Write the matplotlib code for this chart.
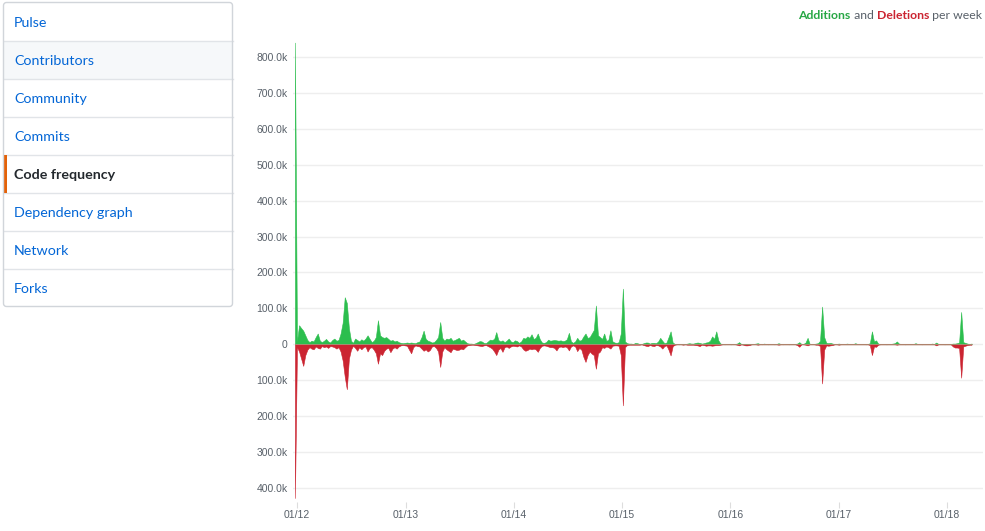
import matplotlib
matplotlib.use("Agg")
import matplotlib.pyplot as plt
import matplotlib.dates as mdates
from matplotlib.patches import Rectangle, FancyBboxPatch
import numpy as np
import pandas as pd

# ---------------- data (thousands of lines per week) ----------------
start_week = "2011-12-25"
additions_k = [
    840, 8, 53, 45, 38, 25, 12, 6, 10, 8,
    20, 30, 10, 6, 10, 15, 8, 5, 12, 16,
    10, 12, 30, 60, 131, 115, 45, 10, 4, 16,
    12, 8, 14, 10, 16, 25, 15, 6, 10, 20,
    67, 25, 20, 18, 20, 15, 10, 12, 8, 10,
    6, 4, 3, 4, 5, 4, 5, 4, 3, 6,
    8, 20, 38, 15, 10, 8, 5, 6, 12, 20,
    62, 18, 10, 16, 14, 18, 10, 12, 15, 18,
    10, 13, 8, 3, 2, 2, 1, 3, 6, 9,
    8, 4, 3, 8, 13, 12, 15, 34, 12, 8,
    11, 6, 10, 16, 8, 6, 11, 9, 4, 8,
    18, 16, 22, 18, 28, 15, 18, 30, 14, 5,
    4, 6, 13, 10, 11, 12, 11, 10, 11, 9,
    10, 14, 32, 8, 4, 8, 18, 10, 12, 22,
    30, 18, 20, 30, 40, 108, 25, 20, 15, 30,
    10, 12, 39, 8, 5, 4, 6, 30, 155, 8,
    3, 2, 2, 1, 4, 3, 1, 1, 3, 5,
    5, 2, 4, 4, 3, 8, 18, 10, 3, 5,
    20, 36, 5, 1, 1, 0, 1, 1, 0, 2,
    3, 2, 2, 4, 5, 4, 2, 3, 5, 6,
    10, 22, 15, 36, 11, 2, 1, 0, 1, 1,
    0, 1, 1, 2, 6, 1, 1, 1, 1, 1,
    0, 1, 2, 3, 1, 0, 2, 1, 0, 1,
    1, 0, 1, 3, 1, 0, 1, 1, 0, 1,
    1, 1, 2, 6, 1, 1, 5, 18, 1, 1,
    1, 2, 3, 10, 105, 20, 4, 3, 4, 2,
    1, 1, 2, 1, 1, 1, 2, 1, 1, 1,
    3, 1, 1, 1, 1, 0, 1, 3, 36, 8,
    11, 2, 1, 1, 1, 0, 1, 1, 2, 3,
    8, 2, 1, 1, 0, 1, 1, 1, 1, 3,
    1, 1, 0, 1, 1, 1, 1, 2, 1, 5,
    1, 1, 1, 0, 1, 1, 1, 2, 2, 3,
    5, 90, 6, 4, 2, 1, 2,
]
deletions_k = [
    -428, -8, -20, -40, -60, -30, -15, -8, -12, -14,
    -6, -10, -12, -5, -8, -6, -10, -5, -6, -8,
    -12, -8, -20, -45, -90, -125, -40, -15, -4, -10,
    -18, -8, -14, -8, -6, -20, -10, -8, -15, -25,
    -54, -25, -30, -18, -12, -10, -22, -12, -8, -12,
    -6, -3, -2, -3, -4, -15, -25, -8, -3, -5,
    -6, -12, -18, -14, -20, -16, -6, -5, -10, -20,
    -63, -20, -8, -14, -18, -22, -12, -14, -16, -15,
    -12, -14, -8, -3, -2, -1, -1, -2, -3, -4,
    -5, -3, -2, -5, -8, -12, -20, -30, -15, -10,
    -21, -8, -6, -10, -6, -4, -5, -6, -3, -6,
    -14, -18, -16, -12, -14, -12, -14, -21, -10, -4,
    -3, -4, -6, -8, -8, -10, -17, -8, -6, -8,
    -6, -8, -17, -6, -3, -6, -19, -10, -15, -35,
    -49, -30, -20, -26, -30, -68, -25, -20, -8, -10,
    -6, -8, -12, -4, -3, -3, -4, -30, -170, -8,
    -2, -1, -1, -1, -1, -1, -1, 0, -2, -4,
    -5, -2, -4, -5, -2, -3, -6, -12, -5, -3,
    -15, -31, -5, -1, 0, 0, 0, -1, 0, -1,
    -1, -1, -1, -2, -3, -5, -1, -2, -4, -3,
    -3, -4, -3, -2, -2, -1, 0, 0, 0, 0,
    0, 0, 0, -1, -3, 0, -1, -3, -3, -2,
    0, 0, 0, -1, 0, 0, 0, 0, 0, 0,
    0, 0, 0, -1, 0, 0, 0, 0, 0, 0,
    0, 0, -2, -7, 0, 0, -1, -3, 0, 0,
    0, -1, -1, -5, -109, -15, -3, -4, -3, -2,
    0, 0, -1, 0, 0, 0, 0, 0, 0, 0,
    0, 0, 0, 0, 0, 0, 0, -2, -30, -6,
    -7, -1, 0, 0, 0, 0, 0, 0, 0, 0,
    -1, 0, 0, 0, 0, 0, 0, 0, 0, 0,
    0, 0, 0, 0, 0, 0, 0, 0, 0, -3,
    0, 0, 0, 0, 0, 0, 0, -6, -9, -9,
    -10, -93, -6, -4, -2, -1, -1,
]
y_ticks_k = [-400, -300, -200, -100, 0, 100, 200, 300, 400, 500, 600, 700, 800]
x_tick_years = [2012, 2013, 2014, 2015, 2016, 2017, 2018]
nav_items = ["Pulse", "Contributors", "Community", "Commits", "Code frequency",
             "Dependency graph", "Network", "Forks"]
selected_item = "Code frequency"
hover_item = "Contributors"

# ---------------- figure ----------------
W, H, DPI = 985, 531, 100
fig = plt.figure(figsize=(W / DPI, H / DPI), dpi=DPI)
fig.patch.set_facecolor("white")

GREEN = "#2cbe4e"
RED = "#cb2431"
GRAY_TXT = "#586069"
UI_FONT = ["Lato", "DejaVu Sans"]

# chart axes in pixel geometry
ax_l, ax_r, ax_t, ax_b = 293, 983, 40, 502
ax = fig.add_axes([ax_l / W, 1 - ax_b / H, (ax_r - ax_l) / W, (ax_b - ax_t) / H])

dates = pd.date_range(start_week, periods=len(additions_k), freq="7D")
xd = mdates.date2num(dates.to_pydatetime())
adds = np.array(additions_k, dtype=float) * 1000
dels = np.array(deletions_k, dtype=float) * 1000

ax.fill_between(xd, 0, adds, color=GREEN, lw=0.4, zorder=3)
ax.fill_between(xd, dels, 0, color=RED, lw=0.4, zorder=3)
ax.plot(xd, np.zeros_like(xd), color="#a89c7c", lw=0.7, zorder=4, alpha=0.8)

jan12 = mdates.date2num(pd.Timestamp("2012-01-01").to_pydatetime())
px_per_day = 108.3 / 365.25
ax.set_xlim(jan12 - (297 - ax_l) / px_per_day, jan12 + (ax_r - 297) / px_per_day)
ppk = 0.3592  # px per thousand
zero_px = 344.3
ax.set_ylim(-(ax_b - zero_px) / ppk * 1000, (zero_px - ax_t) / ppk * 1000)

ax.set_yticks([v * 1000 for v in y_ticks_k])
ax.set_yticklabels(["0" if v == 0 else f"{abs(v):.1f}k" for v in y_ticks_k])
ax.grid(axis="y", color="#eeeeee", lw=1, zorder=0)
ax.set_axisbelow(True)

xt = [mdates.date2num(pd.Timestamp(f"{y}-01-01").to_pydatetime()) for y in x_tick_years]
ax.set_xticks(xt)
ax.set_xticklabels([f"01/{str(y)[2:]}" for y in x_tick_years])

for s in ax.spines.values():
    s.set_visible(False)
ax.tick_params(axis="y", length=0, pad=4, labelsize=7.5, labelcolor=GRAY_TXT)
ax.tick_params(axis="x", length=4, width=0.8, color="#dddddd", pad=2,
               labelsize=7.5, labelcolor=GRAY_TXT)
for lab in ax.get_xticklabels() + ax.get_yticklabels():
    lab.set_fontfamily(["Liberation Sans", "DejaVu Sans"])

# ---------------- overlay (sidebar + legend) in pixel coords ----------------
ov = fig.add_axes([0, 0, 1, 1], zorder=10)
ov.set_xlim(0, W)
ov.set_ylim(H, 0)
ov.axis("off")
ov.patch.set_alpha(0)

box_l, box_r, box_t, row_h = 3.5, 232.5, 2.5, 38
n = len(nav_items)
box_b = box_t + row_h * n
for i, item in enumerate(nav_items):
    top = box_t + i * row_h
    if item == hover_item:
        ov.add_patch(Rectangle((box_l, top), box_r - box_l, row_h,
                               facecolor="#f6f8fa", edgecolor="none", zorder=1))
    if i > 0:
        ov.plot([box_l, box_r], [top, top], color="#e1e4e8", lw=1, zorder=2)
    sel = item == selected_item
    if sel:
        ov.add_patch(Rectangle((box_l, top), 3, row_h,
                               facecolor="#e36209", edgecolor="none", zorder=3))
    ov.text(14, top + row_h / 2 + 1.3, item, fontsize=10.3,
            family=UI_FONT,
            fontweight="bold" if sel else "normal",
            color="#24292e" if sel else "#0366d6",
            va="center", ha="left", zorder=4)
ov.add_patch(FancyBboxPatch((box_l, box_t), box_r - box_l, box_b - box_t,
                            boxstyle="round,pad=0,rounding_size=3",
                            facecolor="none", edgecolor="#d1d5da", lw=1, zorder=5))

# legend text
pieces = [("Additions", "#28a745", "bold"), (" and ", GRAY_TXT, "normal"),
          ("Deletions", RED, "bold"), (" per week", GRAY_TXT, "normal")]
fig.canvas.draw()
renderer = fig.canvas.get_renderer()
texts = []
for txt, col, wt in pieces:
    t = ov.text(0, 15.5, txt, fontsize=8.8, color=col, fontweight=wt,
                family=UI_FONT, va="center", ha="left")
    texts.append(t)
widths = [t.get_window_extent(renderer).width for t in texts]
x = 982 - sum(widths)
for t, w in zip(texts, widths):
    t.set_x(x)
    x += w

fig.savefig("out.png", dpi=DPI, facecolor="white")
